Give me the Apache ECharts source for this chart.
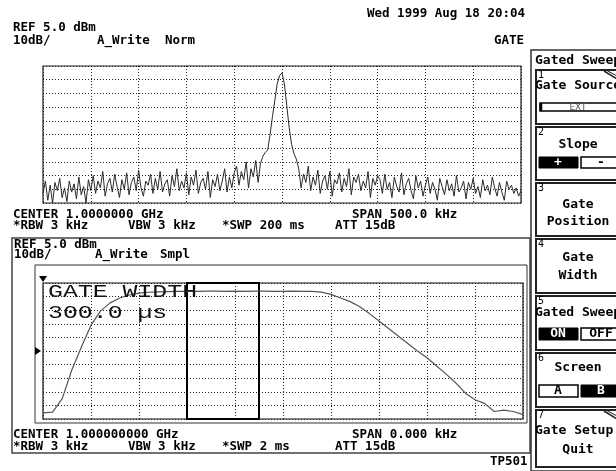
<!DOCTYPE html>
<html>
<head>
<meta charset="utf-8">
<script src="https://cdn.jsdelivr.net/npm/echarts@6/dist/echarts.min.js"></script>
<style>
html,body{margin:0;padding:0;background:#fff}
#chart{width:616px;height:471px}
</style>
</head>
<body>
<div id="chart"></div>
<script>
// screen A: 500 kHz span round the 1 GHz carrier
var spanStartKHz = -250;
var spanEndKHz = 250;
var spectrumDbm = [
  -88, -79, -93, -82, -95, -80, -86, -77, -91, -84, -94, -79, -87, -81, -92, -76, -89, -83, -95, -78, -86,
  -75, -88, -79, -84, -72, -90, -81, -77, -87, -74, -83, -91, -78, -85, -73, -89, -80, -76, -86, -71,
  -84, -90, -79, -82, -74, -88, -77, -85, -72, -87, -81, -78, -90, -75, -83, -70, -86, -79, -84, -73,
  -89, -76, -82, -71, -88, -80, -77, -85, -72, -91, -78, -83, -74, -86, -79, -70, -87, -76, -84, -73,
  -68, -82, -72, -78, -65, -84, -70, -76, -64, -80, -66,
  -61, -58, -56.5, -45, -32, -20, -8, -2, 0, -8, -24, -40, -52, -59, -63,
  -70, -84, -74, -80, -68, -86, -76, -82, -71, -88, -79, -75, -85, -72, -90, -78, -81,
  -73, -87, -77, -83, -70, -89, -76, -80, -74, -86, -79, -84, -72, -91, -77, -82, -75,
  -78, -88, -74, -85, -80, -91, -76, -83, -87, -73, -89, -81, -77, -86, -92, -75, -84, -79, -90, -82,
  -76, -88, -80, -85, -93, -77, -83, -89, -78, -86, -81, -90, -75, -87, -84, -79, -92, -80, -85, -77,
  -88, -83, -91, -78, -86, -82, -89, -76, -84, -90, -80, -87, -93, -79, -85, -82, -88, -84, -90, -86
];

// screen B: zero span, 2 ms sweep
var sweepTimesUs = [
  0, 40, 80, 120, 160, 200, 240, 280, 320, 360, 400, 440, 480, 520, 560, 600, 640,
  680, 720, 760, 800, 840, 880, 920, 960, 1000, 1040, 1080, 1120, 1160, 1200, 1240,
  1280, 1320, 1360, 1400, 1440, 1480, 1520, 1560, 1600, 1640, 1680, 1720, 1760, 1800,
  1840, 1880, 1920, 1960, 2000
];
var sweepDbm = [
  -90.5, -90, -80, -59, -42, -26, -15.5, -9.6, -6, -3.8, -2.5, -1.8, -1.5, -1.3, -1.2, -1.1, -1.1,
  -1.0, -1.0, -1.1, -1.0, -1.1, -1.0, -1.0, -1.1, -1.1, -1.0, -1.1, -1.2, -1.7, -3.4, -6,
  -8.7, -12.5, -17.5, -23, -28.5, -34, -39.5, -45, -50, -56, -62, -68.5, -76, -80.8,
  -83.5, -89.5, -88.5, -89.5, -91.8
];

var gateStartUs = 600;
var gateWidthUs = 300;
var refLevel = 5;
var dbPerDiv = 10;
var trigLevel = -45;

var FONT = "bold 12.5px 'DejaVu Sans Mono', monospace";
var KEYFONT = "bold 13px 'DejaVu Sans Mono', monospace";
var BIGFONT = "18px 'Liberation Mono', monospace";

function txt(x, y, s, extra) {
  var st = { text: s, font: FONT, fill: '#000', textAlign: 'left', textVerticalAlign: 'middle' };
  for (var k in (extra || {})) st[k] = extra[k];
  return { type: 'text', x: x, y: y, silent: true, style: st };
}
function bigTxt(x, y, s) {
  return { type: 'text', x: x, y: y, scaleX: 1.38, silent: true, z: 10,
    style: { text: s, font: BIGFONT, fill: '#111', textAlign: 'left', textVerticalAlign: 'middle' } };
}
function box(x, y, w, h, stroke, lw, fill) {
  return { type: 'rect', silent: true, shape: { x: x, y: y, width: w, height: h },
    style: { fill: fill || 'none', stroke: stroke, lineWidth: lw } };
}
function line(x1, y1, x2, y2, stroke, lw) {
  return { type: 'line', silent: true, shape: { x1: x1, y1: y1, x2: x2, y2: y2 },
    style: { stroke: stroke, lineWidth: lw } };
}

var step = (spanEndKHz - spanStartKHz) / (spectrumDbm.length - 1);
var spectrumData = spectrumDbm.map(function (v, i) { return [spanStartKHz + i * step, v]; });
var sweepData = sweepDbm.map(function (v, i) { return [sweepTimesUs[i], v]; });
var bottomLevel = refLevel - 10 * dbPerDiv;

var dotted = { show: true, lineStyle: { color: '#222', width: 1, type: [1, 2] } };
var hide = { axisLine: { show: false }, axisTick: { show: false }, axisLabel: { show: false } };
function ax(o) { for (var k in hide) o[k] = hide[k]; return o; }

var graphics = [
  txt(367, 14, 'Wed 1999 Aug 18 20:04'),
  txt(13, 28, 'REF 5.0 dBm'),
  txt(13, 41, '10dB/'),
  txt(97, 41, 'A_Write'),
  txt(165, 41, 'Norm'),
  txt(494, 41, 'GATE'),
  txt(13, 215, 'CENTER 1.0000000 GHz'),
  txt(352, 215, 'SPAN 500.0 kHz'),
  txt(13, 226, '*RBW 3 kHz'),
  txt(128, 226, 'VBW 3 kHz'),
  txt(222, 226, '*SWP 200 ms'),
  txt(335, 226, 'ATT 15dB'),
  // screen B frames
  box(12, 238, 518, 215, '#444', 1.5),
  box(35, 265, 492, 158, '#333', 1),
  txt(14, 245, 'REF 5.0 dBm'),
  txt(14, 255, '10dB/'),
  txt(95, 255, 'A_Write'),
  txt(160, 255, 'Smpl'),
  txt(13, 435, 'CENTER 1.000000000 GHz'),
  txt(352, 435, 'SPAN 0.000 kHz'),
  txt(13, 447, '*RBW 3 kHz'),
  txt(128, 447, 'VBW 3 kHz'),
  txt(222, 447, '*SWP 2 ms'),
  txt(335, 447, 'ATT 15dB'),
  txt(490, 462, 'TP501'),
  bigTxt(48, 292, 'GATE WIDTH'),
  bigTxt(48, 313, '300.0 µs'),
  // softkey panel
  box(531, 50, 95, 421, '#333', 1.5),
  txt(535, 61, 'Gated Sweep', { font: KEYFONT })
];

var keys = [
  { y: 70, h: 54, n: '1' },
  { y: 127, h: 53, n: '2' },
  { y: 183, h: 53, n: '3' },
  { y: 239, h: 54, n: '4' },
  { y: 296, h: 54, n: '5' },
  { y: 353, h: 54, n: '6' },
  { y: 410, h: 57, n: '7' }
];
keys.forEach(function (k) {
  graphics.push(box(536, k.y, 90, k.h, '#222', 2, '#fff'));
  graphics.push(txt(538, k.y + 5, k.n, { font: "10px 'DejaVu Sans Mono', monospace" }));
});
var C = 578;
var mid = { font: KEYFONT, textAlign: 'center' };
graphics.push(
  line(604, 71, 617, 79, '#222', 1.5), line(606, 70, 617, 76, '#222', 1),
  txt(535, 86, 'Gate Source', { font: KEYFONT }),
  box(540, 103, 80, 8, '#000', 1.5, '#fff'), line(541, 103, 541, 111, '#000', 2.5),
  txt(578, 107.5, 'EXT', { font: "9px 'DejaVu Sans', sans-serif", fill: '#555', textAlign: 'center' }),
  txt(C, 145, 'Slope', mid),
  box(539, 157, 39, 11, '#000', 1, '#000'),
  txt(558, 162.5, '+', { font: KEYFONT, fill: '#fff', textAlign: 'center' }),
  box(581, 157, 40, 11, '#000', 1.5, '#fff'),
  txt(601, 162.5, '-', { font: KEYFONT, textAlign: 'center' }),
  txt(C, 205, 'Gate', mid),
  txt(C, 222, 'Position', mid),
  txt(C, 258, 'Gate', mid),
  txt(C, 276, 'Width', mid),
  txt(535, 313, 'Gated Sweep', { font: KEYFONT }),
  box(539, 328, 39, 12, '#000', 1, '#000'),
  txt(558, 334, 'ON', { font: KEYFONT, fill: '#fff', textAlign: 'center' }),
  box(581, 328, 40, 12, '#000', 1.5, '#fff'),
  txt(601, 334, 'OFF', { font: KEYFONT, textAlign: 'center' }),
  txt(C, 368, 'Screen', mid),
  box(539, 385, 39, 12, '#000', 1.5, '#fff'),
  txt(558, 391, 'A', { font: KEYFONT, textAlign: 'center' }),
  box(581, 385, 40, 12, '#000', 1, '#000'),
  txt(601, 391, 'B', { font: KEYFONT, fill: '#fff', textAlign: 'center' }),
  line(604, 411, 617, 419, '#222', 1.5), line(606, 410, 617, 416, '#222', 1),
  txt(535, 431, 'Gate Setup', { font: KEYFONT }),
  txt(C, 450, 'Quit', mid)
);

var chart = echarts.init(document.getElementById('chart'), null, { renderer: 'canvas' });
chart.setOption({
  animation: false,
  backgroundColor: '#fff',
  grid: [
    { left: 43, top: 66, width: 478, height: 137, show: true, borderColor: '#222', borderWidth: 1.2 },
    { left: 43, top: 283, width: 480, height: 136, show: true, borderColor: '#111', borderWidth: 1.2 }
  ],
  xAxis: [
    ax({ type: 'value', gridIndex: 0, min: spanStartKHz, max: spanEndKHz, interval: 50, splitLine: dotted }),
    ax({ type: 'value', gridIndex: 1, min: 0, max: 2000, interval: 200, splitLine: dotted })
  ],
  yAxis: [
    ax({ type: 'value', gridIndex: 0, min: bottomLevel, max: refLevel, splitLine: { show: false } }),
    ax({ type: 'value', gridIndex: 0, min: 0, max: 10, interval: 1, splitLine: dotted }),
    ax({ type: 'value', gridIndex: 1, min: bottomLevel, max: refLevel, splitLine: { show: false } }),
    ax({ type: 'value', gridIndex: 1, min: 0, max: 10, interval: 1, splitLine: dotted })
  ],
  series: [
    {
      type: 'line', xAxisIndex: 0, yAxisIndex: 0, data: spectrumData,
      symbol: 'none', silent: true, lineStyle: { color: '#2a2a2a', width: 1 }
    },
    {
      type: 'line', xAxisIndex: 1, yAxisIndex: 2, data: sweepData,
      symbol: 'none', silent: true, lineStyle: { color: '#555', width: 1.2 },
      markArea: {
        silent: true,
        itemStyle: { color: 'rgba(0,0,0,0)', borderColor: '#000', borderWidth: 2 },
        data: [[{ xAxis: gateStartUs, yAxis: refLevel }, { xAxis: gateStartUs + gateWidthUs, yAxis: bottomLevel }]]
      },
      markPoint: {
        silent: true,
        label: { show: false },
        itemStyle: { color: '#000' },
        data: [
          { coord: [0, refLevel], symbol: 'triangle', symbolSize: [8, 6], symbolRotate: 180, symbolOffset: [0, -4] },
          { coord: [0, trigLevel], symbol: 'triangle', symbolSize: [8, 6], symbolRotate: -90, symbolOffset: [-5, 0] }
        ]
      }
    }
  ],
  graphic: graphics
});
</script>
</body>
</html>
